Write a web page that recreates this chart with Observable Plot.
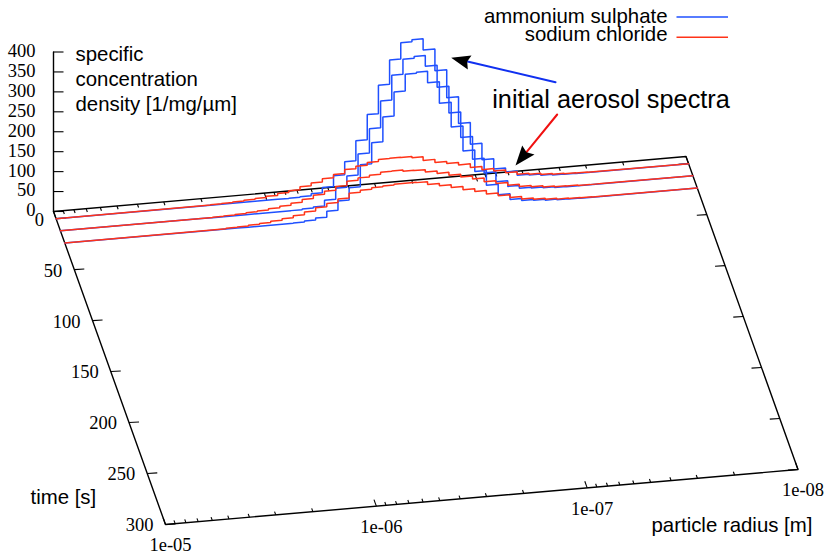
<!DOCTYPE html>
<html><head><meta charset="utf-8">
<style>html,body{margin:0;padding:0;background:#fff}svg{display:block}</style>
<script src="https://cdn.jsdelivr.net/npm/d3@7"></script>
<script src="https://cdn.jsdelivr.net/npm/@observablehq/plot@0.6"></script>
</head><body><div id="chart"></div>
<script>
// --- data ---
const times = [0, 12, 24];                // s
const seriesShift = [0, -0.0104, -0.0204]; // decades
// bin edges, decades below 1e-5 m (log10(1e-5/r))
const binEdges = [0.679,0.732,0.785,0.838,0.891,0.944,0.997,1.051,1.104,1.157,1.210,1.263,1.316,1.369,1.422,1.476,1.529,1.582,1.635,1.688,1.741,1.797,1.853,1.909,1.965,2.020,2.076,2.132,2.187,2.243,2.299,2.354,2.410,2.466,2.522,2.577];
const sulphate0 = [0,0,0,0,0,0,0,0,0.5,2,7,20,47,80,130,193,264,325,366,371,343,288,218,151,96,55,29,19,8,6,3,1,0.5,0,0];
const sulphate1 = [0,0,0,0,0,0,0,0,0.5,2,5,19,47,75,128,189,256,318,356,360,333,278,211,147,90,53,28,14,7,5,3,1,0.5,0,0];
const sulphate2 = [0,0,0,0,0,0,0,0,0.5,3,8,23,46,77,132,185,247,307,349,352,323,269,207,144,90,53,27,12,7,5,3,1.5,0.5,0,0];
const chloride0 = [0.5,1,2,3,5,7,10,15,19,27,34,42,50,60,66,73,78,79,78,75,66,58,53,47,38,30,24,17,11,8,5,3,2,1,0.5];
const chloride1 = [0.5,1,2,3,5,7,10,14,19,26,34,42,51,62,68,72,77,78,75,74,68,62,55,48,40,31,24,17,11,8,5,3,2,1,0.5];
const chloride2 = [0.5,1,2,3,5,7,10,14,19,26,34,42,51,63,68,72,74,76,76,75,68,62,55,47,40,31,24,17,11,8,5,3,2,1,0.5];
const zTicks = [0,50,100,150,200,250,300,350,400];
const tTicks = [0,50,100,150,200,250,300];
const decades = [{u:0,label:"1e-05"},{u:1,label:"1e-06"},{u:2,label:"1e-07"},{u:3,label:"1e-08"}];
const minorMultipliers = [2,3,4,5,6,7,8,9];
const blue = "#1f50ff", red = "#ff3318", sans = "Liberation Sans", serif = "Liberation Serif";
const labels = [
  {x:75,y:54,text:"specific"},{x:75,y:79,text:"concentration"},{x:75,y:104,text:"density [1/mg/µm]"},
  {x:30,y:497,text:"time [s]"},{x:651,y:525,text:"particle radius [m]"}];
const arrows = [
  {color:"#1030f0", shaft:[[555,81.7],[467,61]], head:[[450.7,57.3],[471,55],[466.7,61],[467.3,69]]},
  {color:"#f01010",  shaft:[[556.7,114],[526,151.7]], head:[[515,165],[521.7,145],[526,151.7],[534,154]]}];

// --- projection of (decades, time, value) on the page ---
const org = [53,211], dU = [632.5/3,-55/3], tStart = -7, dT = [112/307,313/307], dZ = 159.5/400;
const px = (u,t) => org[0] + u*dU[0] + (t-tStart)*dT[0];
const py = (u,t,z=0) => org[1] + u*dU[1] + (t-tStart)*dT[1] - z*dZ;

function stepLine(values,i,series){
  const t = times[i], s = seriesShift[i], pts = [{u:0,v:0}];
  values.forEach((v,k)=>{pts.push({u:binEdges[k]+s,v},{u:binEdges[k+1]+s,v});});
  pts.push({u:3,v:0});
  return pts.map(p=>({series:series+i,X:px(p.u,t),Y:py(p.u,t,p.v)}));
}
const sulphate = [sulphate0,sulphate1,sulphate2].flatMap((v,i)=>stepLine(v,i,"s"));
const chloride = [chloride0,chloride1,chloride2].flatMap((v,i)=>stepLine(v,i,"c"));

// ticks
const xTicks = decades.flatMap(d=>[{u:d.u,len:7}].concat(d.u<3?minorMultipliers.map(m=>({u:d.u+1-Math.log10(m),len:3.5})):[]));
const tiltX = -112/332, tiltY = -313/332;
const xTickSegs = xTicks.flatMap(d=>[
  {x1:px(d.u,300),y1:py(d.u,300),x2:px(d.u,300)+d.len*tiltX,y2:py(d.u,300)+d.len*tiltY},
  {x1:px(d.u,tStart),y1:py(d.u,tStart),x2:px(d.u,tStart)-d.len*tiltX,y2:py(d.u,tStart)-d.len*tiltY}]);
const tTickSegs = tTicks.flatMap(t=>[
  {x1:px(0,t),y1:py(0,t),x2:px(0,t)+10,y2:py(0,t)-0.6},
  {x1:px(3,t),y1:py(3,t),x2:px(3,t)-10,y2:py(3,t)+0.6}]);
const zTickSegs = zTicks.map(z=>({x1:org[0],y1:py(0,tStart,z),x2:org[0]+10,y2:py(0,tStart,z)}));
const frame = [[0,tStart],[0,300],[3,300],[3,tStart],[0,tStart]].map(([u,t])=>({X:px(u,t),Y:py(u,t)}));
const zAxis = [0,400].map(z=>({X:org[0],Y:py(0,tStart,z)}));
const legend = [{c:blue,y:16.5,text:"ammonium sulphate",ty:16},{c:red,y:36.7,text:"sodium chloride",ty:34}];
const seg = {x1:"x1",y1:"y1",x2:"x2",y2:"y2",stroke:"black",strokeWidth:1.1};

const chart = Plot.plot({
  width:829,height:554,margin:0,
  x:{domain:[0,829],range:[0,829],axis:null},
  y:{domain:[0,554],range:[0,554],axis:null},
  marks:[
    Plot.line(frame,{x:"X",y:"Y",stroke:"black",strokeWidth:1.4}),
    Plot.line(zAxis,{x:"X",y:"Y",stroke:"black",strokeWidth:1.4}),
    Plot.link(xTickSegs,seg),
    Plot.link(tTickSegs,seg),
    Plot.link(zTickSegs,seg),
    Plot.line(sulphate,{x:"X",y:"Y",z:"series",stroke:blue,strokeWidth:1.5,curve:"linear",strokeLinejoin:"miter"}),
    Plot.line(chloride,{x:"X",y:"Y",z:"series",stroke:red,strokeWidth:1.5,curve:"linear",strokeLinejoin:"miter"}),
    Plot.text(zTicks,{x:()=>35,y:z=>py(0,tStart,z)-1,text:z=>String(z),textAnchor:"end",lineAnchor:"middle",fontFamily:serif,fontSize:18.5,fill:"black"}),
    Plot.text(tTicks,{x:t=>px(0,t)-12,y:t=>py(0,t)+1,text:t=>String(t),textAnchor:"end",lineAnchor:"middle",fontFamily:serif,fontSize:18.5,fill:"black"}),
    Plot.text(decades,{x:d=>px(d.u,300)+5,y:d=>py(d.u,300)+21,text:"label",textAnchor:"middle",lineAnchor:"middle",fontFamily:serif,fontSize:18.5,fill:"black"}),
    Plot.text(labels,{x:"x",y:"y",text:"text",textAnchor:"start",lineAnchor:"middle",fontFamily:sans,fontSize:20.4,fill:"black"}),
    Plot.text(legend,{x:()=>667,y:"ty",text:"text",textAnchor:"end",lineAnchor:"middle",fontFamily:sans,fontSize:20.4,fill:"black"}),
    Plot.link(legend,{x1:()=>676,x2:()=>727.5,y1:"y",y2:"y",stroke:"c",strokeWidth:1.4}),
    Plot.text(["initial aerosol spectra"],{x:()=>491.7,y:()=>99,text:d=>d,textAnchor:"start",lineAnchor:"middle",fontFamily:sans,fontSize:25.3,fill:"black"}),
    ...arrows.flatMap(a=>[
      Plot.line(a.shaft,{x:"0",y:"1",stroke:a.color,strokeWidth:2}),
      Plot.line(a.head,{x:"0",y:"1",fill:"black",stroke:"none"})
    ])
  ]
});
document.getElementById("chart").append(chart);
</script></body></html>
